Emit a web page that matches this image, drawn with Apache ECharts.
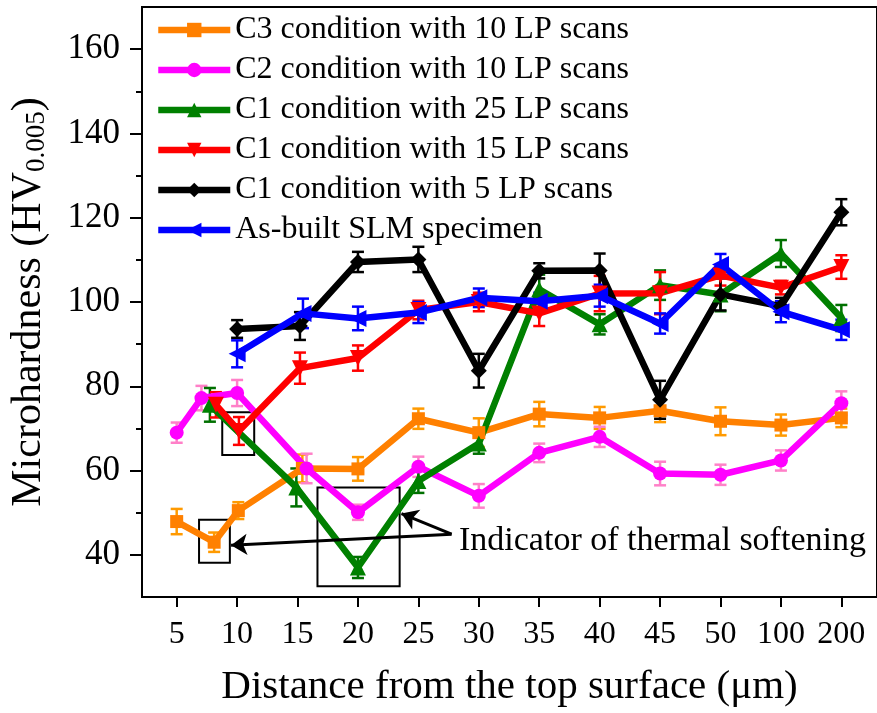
<!DOCTYPE html>
<html>
<head>
<meta charset="utf-8">
<script src="https://cdn.jsdelivr.net/npm/echarts@6/dist/echarts.min.js"></script>
<style>
  html, body { margin: 0; padding: 0; background: #fff; }
  #chart { width: 877px; height: 713px; }
</style>
</head>
<body>
<div id="chart"></div>
<script>
// x tick labels (evenly spaced, so points sit on index positions)
var xLabels = ['5', '10', '15', '20', '25', '30', '35', '40', '45', '50', '100', '200'];
var yMajor = [40, 60, 80, 100, 120, 140, 160];
var yMinor = [50, 70, 90, 110, 130, 150];

// C3 condition with 10 LP scans
var c3X   = [0, 0.62, 1.02, 2.08, 3, 4, 5, 6, 7, 8, 9, 10, 11];
var c3Y   = [47.9, 43, 50.5, 60.5, 60.4, 72.3, 69, 73.4, 72.5, 74.2, 71.7, 70.8, 72.5];
var c3Err = [3, 2.3, 2, 3.3, 2.8, 2.4, 3.4, 2.9, 2.6, 2.7, 3.3, 2.5, 2.2];

// C2 condition with 10 LP scans
var c2X   = [0, 0.41, 1, 2.15, 3, 4, 5, 6, 7, 8, 9, 10, 11];
var c2Y   = [69, 77.2, 78.4, 60.5, 50.1, 60.9, 54, 64.2, 68, 59.3, 59, 62.4, 76];
var c2Err = [2.4, 2.9, 3.1, 3.5, 1.8, 2.4, 2.8, 2.2, 2.4, 2.8, 2.4, 2.4, 2.8];

// C1 condition with 25 LP scans
var c125X   = [0.55, 1.98, 3, 4, 5, 6, 7, 8, 9, 10, 11];
var c125Y   = [75.6, 56, 37, 57.5, 66.4, 103, 94.7, 104, 101.8, 111.5, 96.2];
var c125Err = [4, 4.5, 2.5, 2.8, 2.4, 3.5, 2.4, 3.5, 4, 3.2, 3.1];

// C1 condition with 15 LP scans
var c115X   = [0.65, 1.03, 2.04, 3, 4, 5, 6, 7, 8, 9, 10, 11];
var c115Y   = [75.6, 69.4, 84.3, 86.7, 98.1, 100, 97.3, 102, 102.1, 106.3, 103.4, 108.3];
var c115Err = [3, 3.3, 3.7, 3, 2.2, 2.2, 3, 4.2, 5, 2.4, 1.6, 2.8];

// C1 condition with 5 LP scans
var c15X   = [1, 2.04, 3, 4, 5, 6, 7, 8, 9, 10, 11];
var c15Y   = [93.6, 94.3, 109.5, 110.1, 83.7, 107.4, 107.5, 76.8, 101.8, 99, 121.3];
var c15Err = [2.1, 3.3, 2.4, 3, 4, 1.8, 4, 4.5, 3.8, 2, 3.1];

// As-built SLM specimen
var slmX   = [1, 2.09, 3, 4, 5, 6, 7, 8, 9, 10, 11];
var slmY   = [87.7, 97.3, 96.1, 97.5, 101, 100.2, 101.5, 94.9, 108.9, 97.7, 93.4];
var slmErr = [3.2, 3.5, 2.8, 2.5, 2.2, 2, 2.6, 2.4, 2.5, 2.5, 2.4];

var FONT = 'Liberation Serif';

function pairs(xs, ys) {
    return xs.map(function (x, i) { return [x, ys[i]]; });
}
function errRows(xs, ys, es) {
    return xs.map(function (x, i) { return [x, ys[i] - es[i], ys[i] + es[i]]; });
}

function lineSeries(name, xs, ys, color, symbol, size, rotate) {
    return {
        name: name,
        type: 'line',
        data: pairs(xs, ys),
        symbol: symbol,
        symbolSize: size,
        symbolRotate: rotate || 0,
        showAllSymbol: true,
        lineStyle: { color: color, width: 6.5 },
        itemStyle: { color: color, borderWidth: 0 },
        emphasis: { disabled: true }
    };
}

function errSeries(name, xs, ys, es, color) {
    return {
        name: name + ' err',
        type: 'custom',
        data: errRows(xs, ys, es),
        renderItem: function (params, api) {
            var x = api.value(0);
            var top = api.coord([x, api.value(2)]);
            var bot = api.coord([x, api.value(1)]);
            var cap = 6;
            var st = { stroke: color, lineWidth: 2.5 };
            return {
                type: 'group',
                children: [
                    { type: 'line', shape: { x1: top[0], y1: top[1], x2: bot[0], y2: bot[1] }, style: st },
                    { type: 'line', shape: { x1: top[0] - cap, y1: top[1], x2: top[0] + cap, y2: top[1] }, style: st },
                    { type: 'line', shape: { x1: bot[0] - cap, y1: bot[1], x2: bot[0] + cap, y2: bot[1] }, style: st }
                ]
            };
        },
        silent: true
    };
}

var names = [
    'C3 condition with 10 LP scans',
    'C2 condition with 10 LP scans',
    'C1 condition with 25 LP scans',
    'C1 condition with 15 LP scans',
    'C1 condition with 5 LP scans',
    'As-built SLM specimen'
];

var blue = lineSeries(names[5], slmX, slmY, '#0000ff', 'triangle', 17, 90);
// thermal softening boxes and arrows
blue.markArea = {
    silent: true,
    itemStyle: { color: 'rgba(0,0,0,0)', borderColor: '#000', borderWidth: 2 },
    label: { show: false },
    data: [
        [{ coord: [0.37, 48.35] }, { coord: [0.88, 38.1] }],
        [{ coord: [0.754, 73.85] }, { coord: [1.283, 63.7] }],
        [{ coord: [2.33, 55.98] }, { coord: [3.69, 32.54] }]
    ]
};
blue.markLine = {
    silent: true,
    symbol: ['none', 'arrow'],
    symbolSize: 16,
    label: { show: false },
    lineStyle: { color: '#000', width: 3, type: 'solid' },
    data: [
        [{ coord: [4.55, 44.9] }, { coord: [0.9, 42.3] }],
        [{ coord: [4.55, 44.9] }, { coord: [3.72, 49.8] }]
    ]
};

var option = {
    animation: false,
    backgroundColor: '#fff',
    textStyle: { fontFamily: FONT, color: '#000' },
    grid: {
        left: 142, top: 7, width: 736, height: 593,
        show: true, borderColor: '#000', borderWidth: 2, backgroundColor: 'transparent'
    },
    legend: {
        data: names,
        orient: 'vertical',
        left: 150,
        top: 9,
        itemWidth: 72,
        itemHeight: 18,
        itemGap: 8,
        lineStyle: { width: 6.5 },
        textStyle: { fontFamily: FONT, fontSize: 32, color: '#000' },
        selectedMode: false
    },
    xAxis: {
        type: 'value',
        min: -0.574,
        max: 11.59,
        name: 'Distance from the top surface (\u03bcm)',
        nameLocation: 'middle',
        nameGap: 70,
        nameTextStyle: { fontFamily: FONT, fontSize: 41, color: '#000' },
        axisLine: { show: true, onZero: false, lineStyle: { color: '#000', width: 2 } },
        axisTick: { show: true, customValues: xLabels.map(function (l, i) { return i; }), length: 10, inside: false, lineStyle: { color: '#000', width: 2 } },
        axisLabel: {
            customValues: xLabels.map(function (l, i) { return i; }),
            formatter: function (v) { return xLabels[Math.round(v)]; },
            fontFamily: FONT, fontSize: 32, color: '#000', margin: 22
        },
        splitLine: { show: false }
    },
    yAxis: [{
        type: 'value',
        min: 30,
        max: 170,
        name: 'Microhardness (HV{sub|0.005})',
        nameLocation: 'middle',
        nameGap: 92,
        nameTextStyle: {
            fontFamily: FONT, fontSize: 42, color: '#000',
            rich: { sub: { fontFamily: FONT, fontSize: 27, verticalAlign: 'bottom', padding: [13, 0, 0, 0] } }
        },
        axisLine: { show: true, onZero: false, lineStyle: { color: '#000', width: 2 } },
        axisTick: { show: true, customValues: yMajor, length: 12, inside: false, lineStyle: { color: '#000', width: 2 } },
        axisLabel: { customValues: yMajor, fontFamily: FONT, fontSize: 35, color: '#000', margin: 22 },
        splitLine: { show: false }
    }, {
        type: 'value',
        min: 30,
        max: 170,
        position: 'left',
        axisLine: { show: false, onZero: false },
        axisTick: { show: true, customValues: yMinor, length: 6, inside: false, lineStyle: { color: '#000', width: 2 } },
        axisLabel: { show: false },
        splitLine: { show: false }
    }],
    graphic: [{
        type: 'text',
        left: 459,
        top: 524,
        style: { text: 'Indicator of thermal softening', font: '34px "Liberation Serif"', fill: '#000' }
    }],
    series: [
        lineSeries(names[0], c3X, c3Y, '#ff8000', 'rect', 13),
        errSeries(names[0], c3X, c3Y, c3Err, '#ff9a00'),
        lineSeries(names[1], c2X, c2Y, '#ff00ff', 'circle', 14),
        errSeries(names[1], c2X, c2Y, c2Err, '#ff80c8'),
        lineSeries(names[2], c125X, c125Y, '#008000', 'triangle', 16),
        errSeries(names[2], c125X, c125Y, c125Err, '#007000'),
        lineSeries(names[3], c115X, c115Y, '#ff0000', 'triangle', 16, 180),
        errSeries(names[3], c115X, c115Y, c115Err, '#ff0000'),
        lineSeries(names[4], c15X, c15Y, '#000000', 'diamond', 16),
        errSeries(names[4], c15X, c15Y, c15Err, '#000000'),
        blue,
        errSeries(names[5], slmX, slmY, slmErr, '#0000ff')
    ]
};

var chart = echarts.init(document.getElementById('chart'));
chart.setOption(option);
</script>
</body>
</html>
